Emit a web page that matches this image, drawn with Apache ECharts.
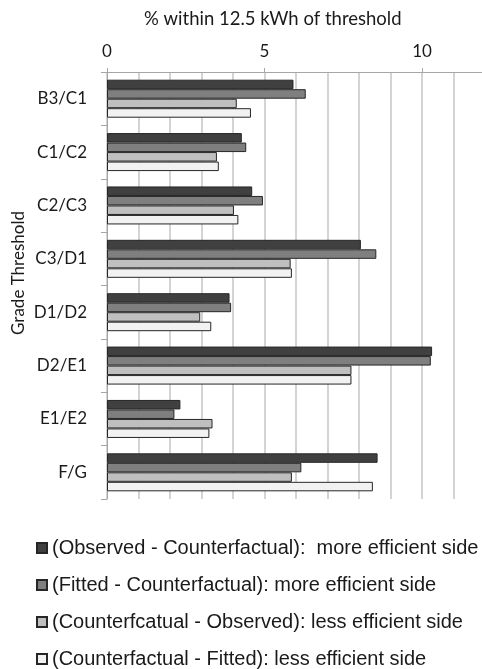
<!DOCTYPE html>
<html>
<head>
<meta charset="utf-8">
<script src="https://cdn.jsdelivr.net/npm/echarts@6/dist/echarts.min.js"></script>
<style>html,body{margin:0;padding:0;background:#fff}#c{width:482px;height:669px}</style>
</head>
<body>
<div id="c"></div>
<script>
const categories = ['B3/C1', 'C1/C2', 'C2/C3', 'C3/D1', 'D1/D2', 'D2/E1', 'E1/E2', 'F/G'];
const seriesNames = [
  '(Observed - Counterfactual):  more efficient side',
  '(Fitted - Counterfactual): more efficient side',
  '(Counterfcatual - Observed): less efficient side',
  '(Counterfactual - Fitted): less efficient side'
];
const observedMore = [5.92, 4.28, 4.61, 8.06, 3.89, 10.32, 2.33, 8.59];
const fittedMore   = [6.31, 4.42, 4.95, 8.55, 3.94, 10.28, 2.14, 6.17];
const observedLess = [4.12, 3.49, 4.03, 5.83, 2.96, 7.76, 3.35, 5.87];
const fittedLess   = [4.57, 3.55, 4.17, 5.87, 3.31, 7.76, 3.25, 8.44];
const xTickLabels = [0, 5, 10];
const xTitle = '% within 12.5 kWh of threshold';
const yTitle = 'Grade Threshold';

const colors = ['#404040', '#7f7f7f', '#bfbfbf', '#f2f2f2'];
const values = [observedMore, fittedMore, observedLess, fittedLess];
const font = 'Lato';
const legendFont = '"Liberation Sans", Arial, sans-serif';

const chart = echarts.init(document.getElementById('c'), null, {renderer: 'canvas'});
chart.setOption({
  animation: false,
  backgroundColor: '#ffffff',
  title: {
    text: xTitle, left: 144, top: 10, padding: 0,
    textStyle: {fontFamily: font, fontSize: 18.5, fontWeight: 'normal', color: '#1a1a1a'}
  },
  graphic: [{
    type: 'text', x: 10, y: 273, rotation: Math.PI / 2,
    style: {text: yTitle, fontFamily: font, fontSize: 17, fill: '#1a1a1a', align: 'center', verticalAlign: 'top'}
  }],
  grid: {left: 107, right: -3, top: 72, bottom: 170, containLabel: false, outerBoundsMode: 'none'},
  legend: {
    orient: 'vertical', left: 36, top: 538, padding: 0, itemWidth: 10, itemHeight: 10, itemGap: 17,
    icon: 'rect',
    textStyle: {fontFamily: legendFont, fontSize: 20, color: '#1a1a1a'},
    data: seriesNames
  },
  xAxis: [{
    type: 'value', position: 'top', min: 0, max: 12, interval: 1,
    axisLine: {show: true, lineStyle: {color: '#a6a6a6', width: 1}},
    axisTick: {show: false},
    axisLabel: {show: false},
    splitLine: {show: true, lineStyle: {color: '#c6c6c6', width: 1.5}}
  }, {
    type: 'value', position: 'top', min: 0, max: 12, interval: 5,
    axisLine: {show: false},
    axisTick: {show: true, length: 4, lineStyle: {color: '#a6a6a6'}},
    axisLabel: {
      show: true, margin: 12, fontFamily: font, fontSize: 17, color: '#1a1a1a',
      formatter: function (v) { return xTickLabels.indexOf(v) >= 0 ? String(v) : ''; }
    },
    splitLine: {show: false}
  }],
  yAxis: {
    type: 'category', inverse: true, data: categories,
    axisLine: {show: true, lineStyle: {color: '#a6a6a6', width: 1}},
    axisTick: {show: true, length: 6, lineStyle: {color: '#a6a6a6'}},
    axisLabel: {margin: 20, fontFamily: font, fontSize: 17, color: '#1a1a1a'},
    splitLine: {show: false}
  },
  series: seriesNames.map(function (name, i) {
    return {
      name: name, type: 'bar', xAxisIndex: 0, data: values[i],
      barWidth: 9.5, barGap: '0%',
      itemStyle: {color: colors[i], borderColor: '#262626', borderWidth: 1}
    };
  })
});
</script>
</body>
</html>
